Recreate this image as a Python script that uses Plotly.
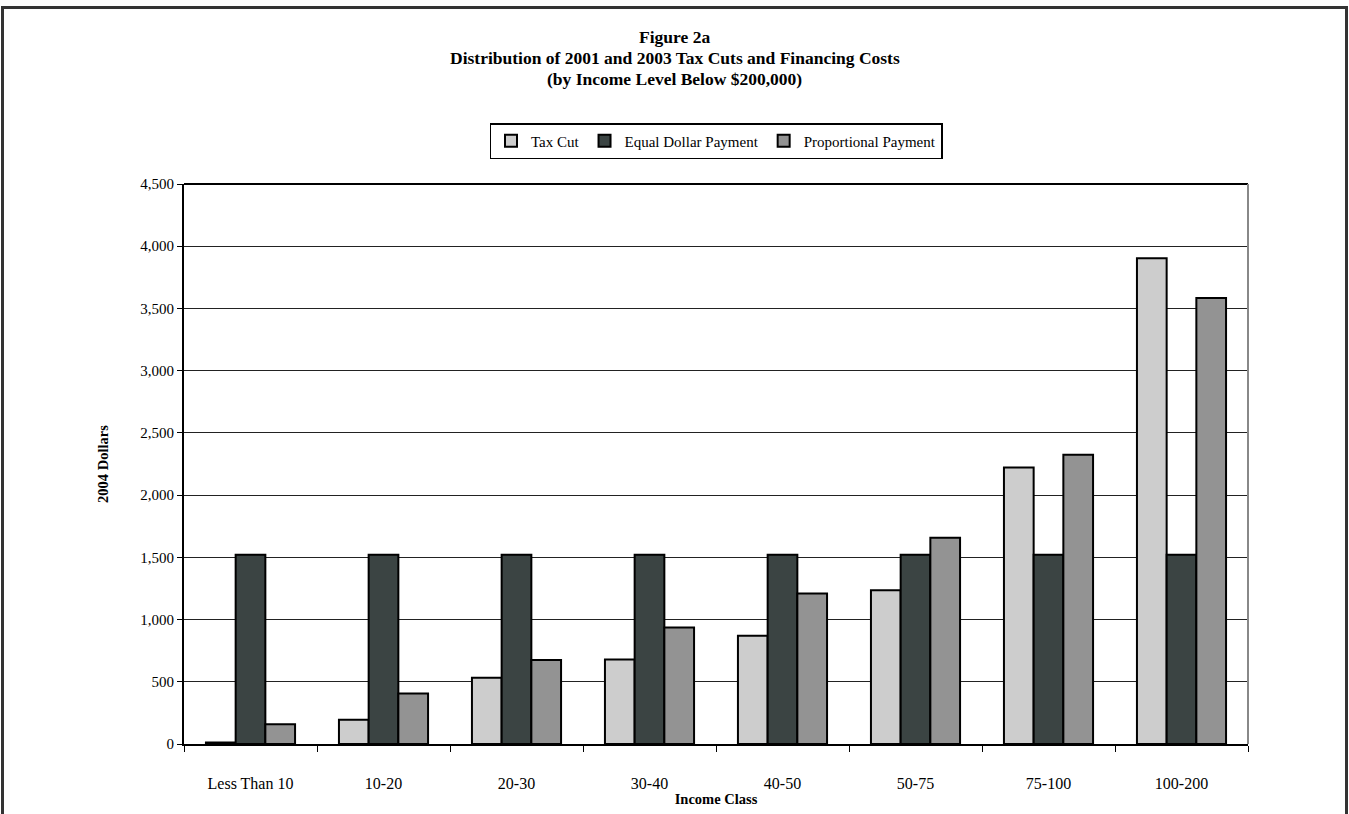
import plotly.graph_objects as go

categories = ["Less Than 10", "10-20", "20-30", "30-40", "40-50", "50-75", "75-100", "100-200"]
tax_cut = [12, 195, 532, 679, 870, 1235, 2221, 3903]
equal_dollar = [1520, 1520, 1520, 1520, 1520, 1520, 1520, 1520]
proportional = [158, 405, 674, 936, 1209, 1657, 2325, 3583]

series_names = ["Tax Cut", "Equal Dollar Payment", "Proportional Payment"]
series_colors = ["#CDCDCD", "#3B4443", "#939393"]

title_lines = ["Figure 2a",
               "Distribution of 2001 and 2003 Tax Cuts and Financing Costs",
               "(by Income Level Below $200,000)"]

FONT = "Liberation Serif, Times New Roman, serif"

fig = go.Figure()
for name, vals, col in zip(series_names, [tax_cut, equal_dollar, proportional], series_colors):
    fig.add_trace(go.Bar(
        name=name, x=categories, y=vals,
        marker=dict(color=col, line=dict(color="#000000", width=2)),
    ))

W, H = 1349, 814
L, R, T, B = 184, 101, 184, 70
pw, ph = W - L - R, H - T - B

def px_x(x):
    return (x - L) / pw

def px_y(y):
    return (H - B - y) / ph

fig.update_layout(
    width=W, height=H,
    margin=dict(l=L, r=R, t=T, b=B, autoexpand=False),
    paper_bgcolor="white", plot_bgcolor="white",
    barmode="group", bargap=0.33, bargroupgap=0,
    font=dict(family=FONT, color="#000000", size=14),
    legend=dict(
        orientation="h", x=0.5, xanchor="center", y=px_y(141), yanchor="middle",
        bordercolor="#000000", borderwidth=1.5, bgcolor="white",
        font=dict(family=FONT, size=15, color="#000000"),
        itemwidth=30, traceorder="normal",
    ),
    showlegend=True,
)

for line, yc in zip(title_lines, [37, 58, 79]):
    fig.add_annotation(text="<b>" + line + "</b>", xref="paper", yref="paper",
                       x=px_x(674.5), y=px_y(yc), xanchor="center", yanchor="middle",
                       showarrow=False, font=dict(family=FONT, size=17.5, color="#000000"))

fig.update_xaxes(
    type="category", showgrid=False, showline=True, linecolor="#000000", linewidth=2,
    ticks="outside", tickson="boundaries", ticklen=6, tickcolor="#000000", tickwidth=1,
    tickfont=dict(family=FONT, size=16, color="#000000"), ticklabelstandoff=24,
    title=dict(text="<b>Income Class</b>", font=dict(family=FONT, size=14.5, color="#000000"), standoff=3),
)
fig.update_yaxes(
    range=[0, 4500], dtick=500, tickformat=",",
    showgrid=True, gridcolor="#222222", gridwidth=1,
    showline=True, linecolor="#000000", linewidth=2,
    ticks="outside", ticklen=5, tickcolor="#000000",
    tickfont=dict(family=FONT, size=15, color="#000000"),
    zeroline=False,
    title=dict(text="<b>2004 Dollars</b>", font=dict(family=FONT, size=14.5, color="#000000"), standoff=28),
)

# top border (black), right border (gray) of the plot area, and outer frame
fig.add_shape(type="line", xref="paper", yref="paper", x0=0, x1=1, y0=1, y1=1,
              line=dict(color="#000000", width=2))
fig.add_shape(type="line", xref="paper", yref="paper", x0=1, x1=1, y0=0, y1=1,
              line=dict(color="#888888", width=2))
fig.add_shape(type="rect", xref="paper", yref="paper",
              x0=px_x(2.5), x1=px_x(1346.5), y0=px_y(7.5), y1=px_y(900),
              line=dict(color="#333333", width=3), fillcolor="rgba(0,0,0,0)", layer="above")

fig.write_html("out.html", config={"displayModeBar": False},
               post_script="document.body.style.margin='0px';")
